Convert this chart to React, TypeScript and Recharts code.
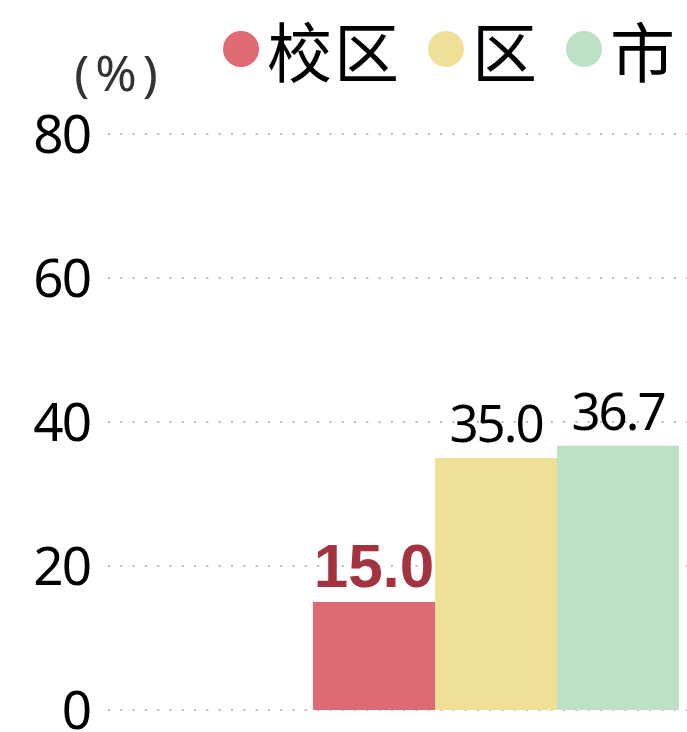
import React from "react";
import { BarChart, Bar, YAxis, XAxis, CartesianGrid, LabelList } from "recharts";

const categories = ["校区"];
const series = [
  { key: "school", name: "校区", color: "#df6a73" },
  { key: "district", name: "区", color: "#efe097" },
  { key: "city", name: "市", color: "#bde1c4" },
];
const schoolValues = [15.0];
const districtValues = [35.0];
const cityValues = [36.7];
const yTicks = [0, 20, 40, 60, 80];

const data = categories.map((c, i) => ({
  name: c,
  school: schoolValues[i],
  district: districtValues[i],
  city: cityValues[i],
}));

// legend drawn as plain html above the chart
const ChartLegend = () => (
  <div
    style={{
      position: "absolute",
      top: 2,
      left: 223,
      display: "flex",
      alignItems: "flex-start",
      whiteSpace: "nowrap",
    }}
  >
    {series.map((s) => (
      <div key={s.key} style={{ display: "flex", alignItems: "flex-start", marginRight: 27 }}>
        <span
          style={{
            width: 36,
            height: 36,
            marginTop: 29,
            borderRadius: "50%",
            background: s.color,
            display: "inline-block",
            marginRight: 8,
          }}
        />
        <span
          style={{
            fontFamily: "'Noto Sans CJK SC'",
            fontSize: 65,
            letterSpacing: 2,
            color: "#000",
          }}
        >
          {s.name}
        </span>
      </div>
    ))}
  </div>
);

const tickStyle = { fontFamily: "'Noto Sans'", fontSize: 53, fill: "#000", letterSpacing: -2 };
const valueLabel = { fontFamily: "'Noto Sans'", fontSize: 51, fill: "#000", letterSpacing: -2 };

export default function App() {
  return (
    <div
      style={{
        position: "fixed",
        left: 0,
        top: 0,
        width: 687,
        height: 732,
        overflow: "hidden",
        background: "#fff",
      }}
    >
      <BarChart
        width={900}
        height={732}
        data={data}
        margin={{ top: 134, right: 16, bottom: 22, left: 0 }}
        barGap={0}
      >
        <CartesianGrid vertical={false} stroke="#bbb" strokeWidth={2} strokeDasharray="2 10.3" />
        <XAxis dataKey="name" hide />
        <YAxis
          width={108}
          domain={[0, 80]}
          ticks={yTicks}
          interval={0}
          axisLine={false}
          tickLine={false}
          tickSize={0}
          tickMargin={18}
          tick={tickStyle}
          label={{
            value: "(%)",
            position: "top",
            offset: 43,
            dx: 65,
            fontSize: 50,
            fontFamily: "'Noto Sans'",
            letterSpacing: 6,
            fill: "#333",
          }}
        />
        <Bar dataKey="school" name="校区" fill={series[0].color} barSize={122} isAnimationActive={false}>
          <LabelList
            dataKey="school"
            position="top"
            offset={15}
            formatter={(v: number) => v.toFixed(1)}
            style={{ fontFamily: "'Liberation Sans'", fontWeight: 700, fontSize: 62, fill: "#a3333f" }}
          />
        </Bar>
        <Bar dataKey="district" name="区" fill={series[1].color} barSize={122} isAnimationActive={false}>
          <LabelList
            dataKey="district"
            position="top"
            offset={16}
            formatter={(v: number) => v.toFixed(1)}
            style={valueLabel}
          />
        </Bar>
        <Bar dataKey="city" name="市" fill={series[2].color} barSize={122} isAnimationActive={false}>
          <LabelList
            dataKey="city"
            position="top"
            offset={16}
            formatter={(v: number) => v.toFixed(1)}
            style={valueLabel}
          />
        </Bar>
      </BarChart>
      <ChartLegend />
    </div>
  );
}
